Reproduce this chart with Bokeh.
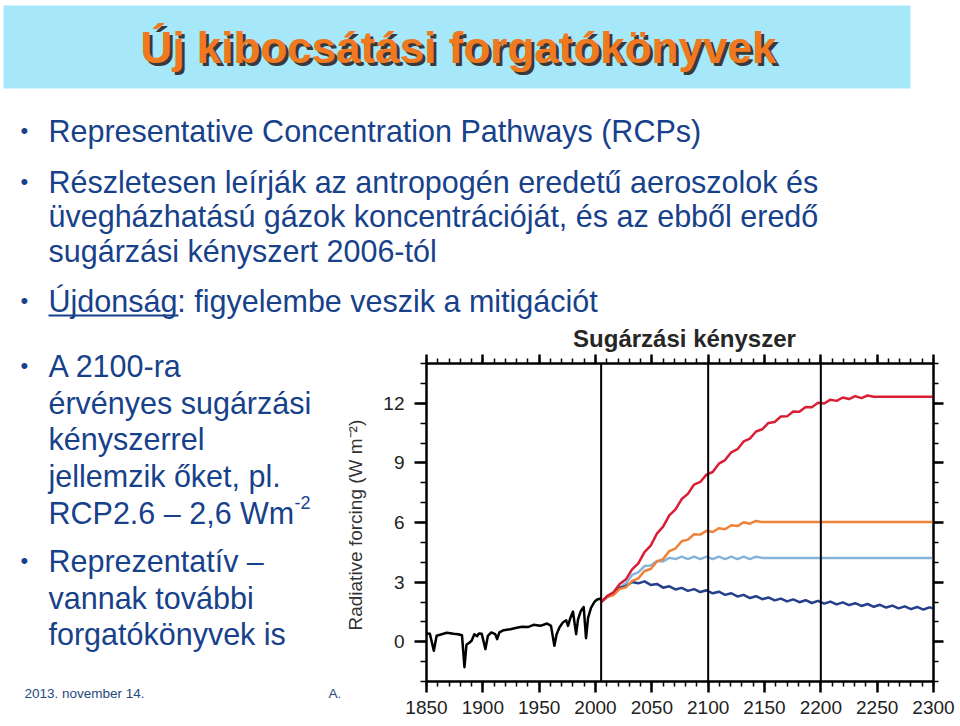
from bokeh.plotting import figure
from bokeh.layouts import column, row
from bokeh.models import Range1d, FixedTicker, LinearAxis, Label, BoxAnnotation, Span
from bokeh.embed import file_html
from bokeh.resources import INLINE

# ---------------- data ----------------
HIST_YEARS = [1850, 1853, 1856.5, 1859, 1862, 1868, 1874, 1878, 1881.5, 1883.7,
              1885.5, 1888, 1890, 1892.5, 1895, 1896.5, 1899, 1902.3, 1904.5, 1907.5,
              1911, 1912.7, 1914.7, 1918.5, 1924.5, 1930, 1935, 1940, 1945, 1951,
              1957, 1960.5, 1963.5, 1965.5, 1968, 1971, 1974, 1975.6, 1977.7, 1980,
              1982.8, 1984.5, 1987, 1989.5, 1991.6, 1993.4, 1996, 1999, 2001.5, 2005]
HIST_RF = [0.42, 0.40, -0.45, 0.30, 0.35, 0.45, 0.40, 0.38, 0.33, -1.28,
           -0.15, -0.05, 0.05, 0.38, 0.28, 0.42, 0.40, -0.37, 0.30, 0.47,
           0.38, 0.13, 0.47, 0.58, 0.63, 0.70, 0.75, 0.74, 0.85, 0.80,
           0.92, 0.80, -0.20, 0.38, 0.72, 0.97, 1.08, 0.80, 1.20, 1.52,
           0.38, 1.13, 1.55, 1.75, 0.18, 1.20, 1.70, 2.00, 2.13, 2.18]

SCEN_YEARS = [2005, 2010.5, 2016, 2021.5, 2027, 2032.5, 2038, 2043.5, 2049, 2054.5,
              2060, 2065.5, 2071, 2076.5, 2082, 2087.5, 2093, 2098.5, 2104, 2109.5,
              2115, 2120.5, 2126, 2131.5, 2137, 2142.5, 2148, 2153.5, 2159, 2164.5,
              2170, 2175.5, 2181, 2186.5, 2192, 2197.5, 2203, 2208.5, 2214, 2219.5,
              2225, 2230.5, 2236, 2241.5, 2247, 2252.5, 2258, 2263.5, 2269, 2274.5,
              2280, 2285.5, 2291, 2296.5, 2300]

RCP85 = [2.00, 2.31, 2.49, 2.91, 3.14, 3.64, 3.94, 4.51, 4.84, 5.44,
         5.79, 6.36, 6.66, 7.18, 7.44, 7.91, 8.04, 8.41, 8.54, 8.96,
         9.14, 9.53, 9.69, 10.08, 10.22, 10.58, 10.69, 11.01, 11.06, 11.33,
         11.34, 11.58, 11.57, 11.81, 11.80, 12.02, 11.99, 12.18, 12.12, 12.29,
         12.21, 12.36, 12.26, 12.39, 12.33, 12.33]
RCP85_YEARS = SCEN_YEARS[:45] + [2300]

RCP60 = [2.00, 2.26, 2.34, 2.66, 2.74, 3.06, 3.19, 3.56, 3.66, 4.04,
         4.16, 4.56, 4.69, 5.06, 5.14, 5.41, 5.39, 5.58, 5.52, 5.71,
         5.66, 5.86, 5.82, 6.01, 5.94, 6.08, 6.02, 6.02]
RCP60_YEARS = SCEN_YEARS[:27] + [2300]

RCP45 = [2.00, 2.26, 2.40, 2.70, 2.94, 3.36, 3.49, 3.81, 3.84, 4.06,
         4.04, 4.22, 4.16, 4.28, 4.16, 4.28, 4.16, 4.28, 4.16, 4.28,
         4.16, 4.28, 4.16, 4.28, 4.16, 4.28, 4.22, 4.22]
RCP45_YEARS = SCEN_YEARS[:27] + [2300]

RCP26 = [2.00, 2.26, 2.44, 2.72, 2.80, 3.01, 2.94, 3.04, 2.86, 2.91,
         2.72, 2.79, 2.63, 2.71, 2.56, 2.65, 2.50, 2.59, 2.44, 2.52,
         2.36, 2.44, 2.28, 2.36, 2.20, 2.29, 2.14, 2.23, 2.08, 2.17,
         2.03, 2.13, 1.99, 2.09, 1.95, 2.06, 1.92, 2.02, 1.88, 1.98,
         1.84, 1.94, 1.80, 1.90, 1.76, 1.86, 1.72, 1.82, 1.68, 1.78,
         1.64, 1.75, 1.62, 1.73, 1.68]
RCP26_YEARS = SCEN_YEARS

X_TICKS = [1850, 1900, 1950, 2000, 2050, 2100, 2150, 2200, 2250, 2300]
X_MINOR = list(range(1850, 2301, 10))
Y_TICKS = [0, 3, 6, 9, 12]
Y_MINOR = list(range(-2, 15))
MARK_YEARS = [2005, 2100, 2200]

TITLE = "Új kibocsátási forgatókönyvek"
CHART_TITLE = "Sugárzási kényszer"
Y_LABEL = "Radiative  forcing (W m\u207b\u00b2)"
TOP_LINES = [
    ("Representative Concentration Pathways (RCPs)", 130, True),
    ("Részletesen leírják az antropogén eredetű aeroszolok és", 181, True),
    ("üvegházhatású gázok koncentrációját, és az ebből eredő", 215, False),
    ("sugárzási kényszert 2006-tól", 250, False),
    ("Újdonság: figyelembe veszik a mitigációt", 300, True),
]
LEFT_LINES = [
    ("A 2100-ra", 365, True),
    ("érvényes sugárzási", 402, False),
    ("kényszerrel", 438, False),
    ("jellemzik őket, pl.", 475, False),
    ("RCP2.6 – 2,6 Wm", 512, False),
    ("Reprezentatív –", 560, True),
    ("vannak további", 597, False),
    ("forgatókönyvek is", 633, False),
]
FOOTER_DATE = "2013. november 14."
FOOTER_MID = "A."

# ---------------- layout ----------------
W, H = 960, 726
SPLIT_Y = 322          # bottom of the full-width top panel
CHART_Y = 353          # top of the chart figure
SPLIT_X = 340          # width of the left text column
FOOT_Y = 676           # footer panel starts here
FL, FR, FT, FB = 426, 933, 363, 681   # chart frame on the page

FONT = "Liberation Sans"
TEXT_BLUE = "#17418A"
BODY = 30.5


def text_panel(x0, x1, y0, y1, bl=0, br=0):
    f = figure(width=x1 - x0, height=y1 - y0,
               x_range=Range1d(x0 + bl, x1 - br), y_range=Range1d(y1, y0),
               output_backend="svg", toolbar_location=None,
               x_axis_type=None, y_axis_type=None,
               min_border_left=bl, min_border_right=br, min_border_top=0, min_border_bottom=0,
               outline_line_color=None, background_fill_color="white",
               border_fill_color="white")
    f.grid.visible = False
    return f


def add_text(f, px, py, text, size, color, bold=False, align="left", baseline="middle"):
    f.add_layout(Label(x=px, y=py, text=text, text_font=FONT,
                       text_font_size=f"{size}px", text_color=color,
                       text_font_style="bold" if bold else "normal",
                       text_align=align, text_baseline=baseline))


# top panel: title band + first bullets
top = text_panel(0, W, 0, SPLIT_Y)
top.add_layout(BoxAnnotation(left=3, right=910, top=5, bottom=88,
                             fill_color="#A6E8FA", fill_alpha=1, line_color=None))
add_text(top, 461, 50, TITLE, 44, "#3A3A3A", bold=True, align="center")
add_text(top, 458, 47, TITLE, 44, "#F0781E", bold=True, align="center")
for text, py, bullet in TOP_LINES:
    add_text(top, 48, py, text, BODY, TEXT_BLUE)
    if bullet:
        add_text(top, 20, py, "\u2022", 22, TEXT_BLUE)
top.add_layout(BoxAnnotation(left=48, right=178, top=314, bottom=316,
                             fill_color=TEXT_BLUE, fill_alpha=1, line_color=None))

# chart title panel (its frame is aligned with the chart frame)
ttl = text_panel(SPLIT_X, W, SPLIT_Y, CHART_Y, bl=FL - SPLIT_X, br=W - FR)
add_text(ttl, 684, 338, CHART_TITLE, 24, "#262626", bold=True, align="center")

# left panel: remaining bullets
left = text_panel(0, SPLIT_X, SPLIT_Y, FOOT_Y)
for text, py, bullet in LEFT_LINES:
    add_text(left, 48, py, text, BODY, TEXT_BLUE)
    if bullet:
        add_text(left, 20, py, "\u2022", 22, TEXT_BLUE)
add_text(left, 294, 502, "-2", 18, TEXT_BLUE)

# footer panel
foot = text_panel(0, SPLIT_X, FOOT_Y, H)
add_text(foot, 24, 693, FOOTER_DATE, 13.5, "#1F497D")
add_text(foot, 328, 693, FOOTER_MID, 13.5, "#1F497D")

# chart
p = figure(width=W - SPLIT_X, height=H - CHART_Y,
           x_range=Range1d(1850, 2300), y_range=Range1d(-2, 14),
           output_backend="svg", toolbar_location=None,
           min_border_left=FL - SPLIT_X, min_border_right=W - FR,
           min_border_top=FT - CHART_Y, min_border_bottom=H - FB,
           outline_line_color="black", outline_line_width=2,
           background_fill_color="white", border_fill_color="white")
p.grid.visible = False

xt = FixedTicker(ticks=X_TICKS, minor_ticks=X_MINOR)
yt = FixedTicker(ticks=Y_TICKS, minor_ticks=Y_MINOR)


def style_axis(ax, ticker, major_out, minor_out, labels=True):
    ax.ticker = ticker
    ax.axis_line_color = "black"
    ax.axis_line_width = 2
    ax.major_tick_line_width = 2.5
    ax.minor_tick_line_width = 1.5
    ax.major_tick_in = 0
    ax.minor_tick_in = 0
    ax.major_tick_out = major_out
    ax.minor_tick_out = minor_out
    ax.major_label_text_font = FONT
    ax.major_label_text_color = "#222222"
    if labels:
        ax.major_label_text_font_size = "19px"
    else:
        ax.major_label_overrides = {t: "" for t in ticker.ticks}
        ax.major_label_text_font_size = "0px"
        ax.major_label_standoff = 0


xa = p.xaxis[0]
style_axis(xa, xt, 11, 5)
xa.major_label_standoff = 8
ya = p.yaxis[0]
style_axis(ya, yt, 12, 6)
ya.major_label_standoff = 10
ya.axis_label = Y_LABEL
ya.axis_label_text_font = FONT
ya.axis_label_text_font_size = "19px"
ya.axis_label_text_font_style = "normal"
ya.axis_label_text_color = "#333333"
ya.axis_label_standoff = 14

top_ax = LinearAxis()
style_axis(top_ax, xt, 9, 5, labels=False)
p.add_layout(top_ax, "above")
right_ax = LinearAxis()
style_axis(right_ax, yt, 10, 5, labels=False)
p.add_layout(right_ax, "right")

for yr in MARK_YEARS:
    p.add_layout(Span(location=yr, dimension="height", line_color="black", line_width=2))

p.line(HIST_YEARS, HIST_RF, line_color="black", line_width=2.5, line_join="round")
p.line(RCP45_YEARS, RCP45, line_color="#86B3DC", line_width=2.5, line_join="round")
p.line(RCP26_YEARS, RCP26, line_color="#243F8C", line_width=2.5, line_join="round")
p.line(RCP60_YEARS, RCP60, line_color="#EF8236", line_width=2.5, line_join="round")
p.line(RCP85_YEARS, RCP85, line_color="#D91E36", line_width=2.5, line_join="round")

layout = column(top,
                row(column(left, foot, spacing=0), column(ttl, p, spacing=0), spacing=0),
                spacing=0)
open("out.html", "w").write(file_html(layout, INLINE))
